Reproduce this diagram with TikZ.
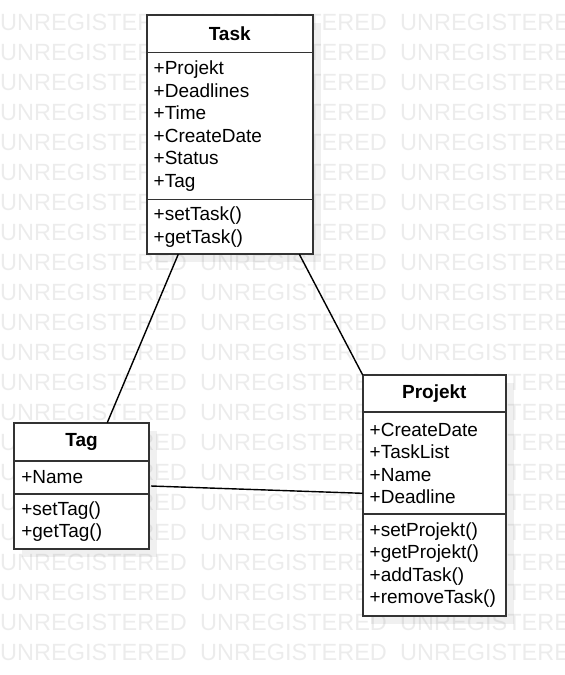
\documentclass[tikz,border=0pt]{standalone}
\usepackage{fontspec}
\setmainfont{Liberation Sans}
\usetikzlibrary{positioning,shadows}
\definecolor{umlline}{RGB}{51,51,51}
\definecolor{wmgray}{RGB}{236,236,236}
\hyphenpenalty=10000

\begin{document}
\begin{tikzpicture}[x=1pt, y=-1pt,
    umlbox/.style={draw=umlline, line width=1.8pt, fill=white, outer sep=0pt,
      inner xsep=7pt, inner ysep=2pt,
      drop shadow={shadow xshift=8pt, shadow yshift=-8pt, opacity=0.12},
      font=\fontsize{19pt}{22.5pt}\selectfont},
    umlhead/.style={umlbox, text width=#1, align=center, minimum height=37.5pt,
      font=\fontsize{19pt}{22.5pt}\selectfont\bfseries},
    umlpart/.style={umlbox, text width=#1, align=left},
    assoc/.style={line width=1.4pt, black},
    watermark/.style={text=wmgray, font=\fontsize{23.5pt}{26pt}\selectfont, inner sep=0pt}]
    \useasboundingbox (0,0) rectangle (565,675);

    % background text
    \foreach \row in {0,...,21}
      \foreach \col in {0,1,2}
        \node[watermark, anchor=base west] (wm-\col-\row) at ({200*\col}, {30+30*\row}) {UNREGISTERED};

    % Task
    \node[umlhead=152pt, anchor=north west] (task) at (146.7,15) {Task};
    \node[umlpart=152pt, minimum height=147pt, below=0pt of task] (taskattr)
      {+Projekt\\+Deadlines\\+Time\\+CreateDate\\+Status\\+Tag};
    \node[umlpart=152pt, minimum height=54.7pt, below=0pt of taskattr] (taskops)
      {+setTask()\\+getTask()};

    % Tag
    \node[umlhead=120.7pt, minimum height=38pt, anchor=north west] (tag) at (14.3,422.7) {Tag};
    \node[umlpart=120.7pt, minimum height=33.6pt, below=0pt of tag] (tagattr) {+Name};
    \node[umlpart=120.7pt, minimum height=55pt, below=0pt of tagattr] (tagops)
      {+setTag()\\+getTag()};

    % Projekt
    \node[umlhead=129.3pt, minimum height=37.3pt, anchor=north west] (projekt) at (362.7,375) {Projekt};
    \node[umlpart=129.3pt, minimum height=102pt, below=0pt of projekt] (projektattr)
      {+CreateDate\\+TaskList\\+Name\\+Deadline};
    \node[umlpart=129.3pt, minimum height=101.4pt, below=0pt of projektattr] (projektops)
      {+setProjekt()\\+getProjekt()\\+addTask()\\+removeTask()};

    % associations
    \draw[assoc] ([xshift=-51.4pt]taskops.south) -- ([xshift=25.6pt]tag.north);
    \draw[assoc] ([xshift=69.6pt]taskops.south) -- (projekt.north west);
    \draw[assoc] ([xshift=2pt, yshift=-8.5pt]tagattr.east) -- ([yshift=-30pt]projektattr.west);
  \end{tikzpicture}
\end{document}
